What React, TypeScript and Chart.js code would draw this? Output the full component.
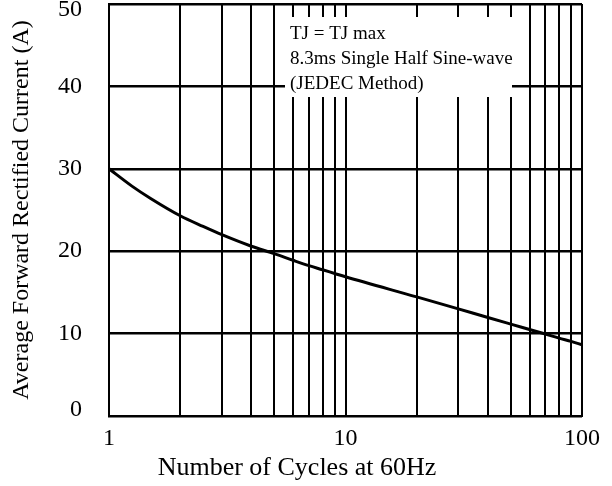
import React, { useEffect, useRef } from "react";
import { Chart, registerables } from "chart.js";

Chart.register(...registerables);

// Number of cycles at 60 Hz (log axis) and average forward rectified current (A)
const cycles = [1, 1.25, 1.5, 2, 2.5, 3, 4, 5, 6, 7, 8, 9, 10, 20, 30, 40, 50, 60, 70, 80, 90, 100];
const current = [30, 27.9, 26.4, 24.3, 23.0, 22.0, 20.6, 19.7, 18.9, 18.25, 17.75, 17.3, 16.9, 14.45, 13.0, 11.95, 11.15, 10.5, 9.95, 9.45, 9.05, 8.65];

const xGridValues = [1, 2, 3, 4, 5, 6, 7, 8, 9, 10, 20, 30, 40, 50, 60, 70, 80, 90, 100];
const xLabelValues = [1, 10, 100];
const yTicks = [0, 10, 20, 30, 40, 50];

const noteLines = ["TJ = TJ max", "8.3ms Single Half Sine-wave", "(JEDEC Method)"];
const xTitle = "Number of Cycles at 60Hz";
const yTitle = "Average Forward Rectified Current (A)";

const SERIF = "'Liberation Serif', 'Times New Roman', Times, serif";

const notePlugin = {
  id: "noteBox",
  beforeDatasetsDraw(chart: any) {
    const { ctx, chartArea } = chart;
    const bx = chartArea.left + 176;
    const by = chartArea.top + 13;
    ctx.save();
    ctx.fillStyle = "#ffffff";
    ctx.fillRect(bx, by, 227, 80);
    ctx.fillStyle = "#000000";
    ctx.font = `19px ${SERIF}`;
    ctx.textBaseline = "middle";
    ctx.textAlign = "left";
    noteLines.forEach((t, i) => ctx.fillText(t, bx + 5, by + 17 + i * 25));
    ctx.restore();
  },
  afterDraw(chart: any) {
    const { ctx, chartArea } = chart;
    ctx.save();
    ctx.fillStyle = "#000000";
    ctx.font = `26px ${SERIF}`;
    ctx.textBaseline = "middle";
    ctx.textAlign = "center";
    ctx.fillText(xTitle, chartArea.left + 188, chartArea.bottom + 52);
    ctx.restore();
  },
};

export default function App() {
  const ref = useRef<HTMLCanvasElement | null>(null);

  useEffect(() => {
    if (!ref.current) return;
    const chart = new Chart(ref.current, {
      type: "line",
      data: {
        datasets: [
          {
            data: cycles.map((c, i) => ({ x: c, y: current[i] })),
            borderColor: "#000000",
            borderWidth: 3,
            pointRadius: 0,
            cubicInterpolationMode: "monotone",
            fill: false,
          },
        ],
      },
      options: {
        animation: false,
        responsive: false,
        layout: { padding: { top: 4, right: 30, left: 0, bottom: 0 } },
        plugins: { legend: { display: false }, tooltip: { enabled: false }, title: { display: false } },
        scales: {
          x: {
            type: "logarithmic",
            min: 1,
            max: 100,
            afterFit: (s: any) => {
              s.height = 70;
              s.paddingLeft = 0;
              s.paddingRight = 0;
            },
            afterBuildTicks: (s: any) => {
              s.ticks = xGridValues.map((v) => ({ value: v }));
            },
            ticks: {
              autoSkip: false,
              maxRotation: 0,
              padding: 8,
              color: "#000",
              font: { family: SERIF, size: 24 },
              callback: (v: any) => (xLabelValues.includes(Number(v)) ? String(v) : ""),
            },
            grid: { color: "#000", lineWidth: 2, drawTicks: false },
            border: { display: true, color: "#000", width: 2 },
          },
          y: {
            type: "linear",
            min: 0,
            max: 50,
            afterFit: (s: any) => {
              s.width = 109;
              s.paddingTop = 0;
              s.paddingBottom = 0;
            },
            afterBuildTicks: (s: any) => {
              s.ticks = yTicks.map((v) => ({ value: v }));
            },
            ticks: {
              padding: 27,
              color: "#000",
              font: { family: SERIF, size: 24, lineHeight: 0.5 },
              callback: (v: any) => {
                const n = Number(v);
                if (n === 50) return ["", String(n)];
                if (n === 0) return [String(n), ""];
                return String(n);
              },
            },
            grid: { color: "#000", lineWidth: 2.5, drawTicks: false },
            border: { display: true, color: "#000", width: 2 },
            title: {
              display: true,
              text: yTitle,
              color: "#000",
              font: { family: SERIF, size: 24 },
              padding: { top: 7, bottom: 0 },
            },
          },
        },
      },
      plugins: [notePlugin],
    });
    return () => chart.destroy();
  }, []);

  return (
    <div style={{ position: "absolute", left: 0, top: 0, width: 612, height: 486, background: "#fff" }}>
      <canvas ref={ref} width={612} height={486} style={{ display: "block" }} />
    </div>
  );
}
